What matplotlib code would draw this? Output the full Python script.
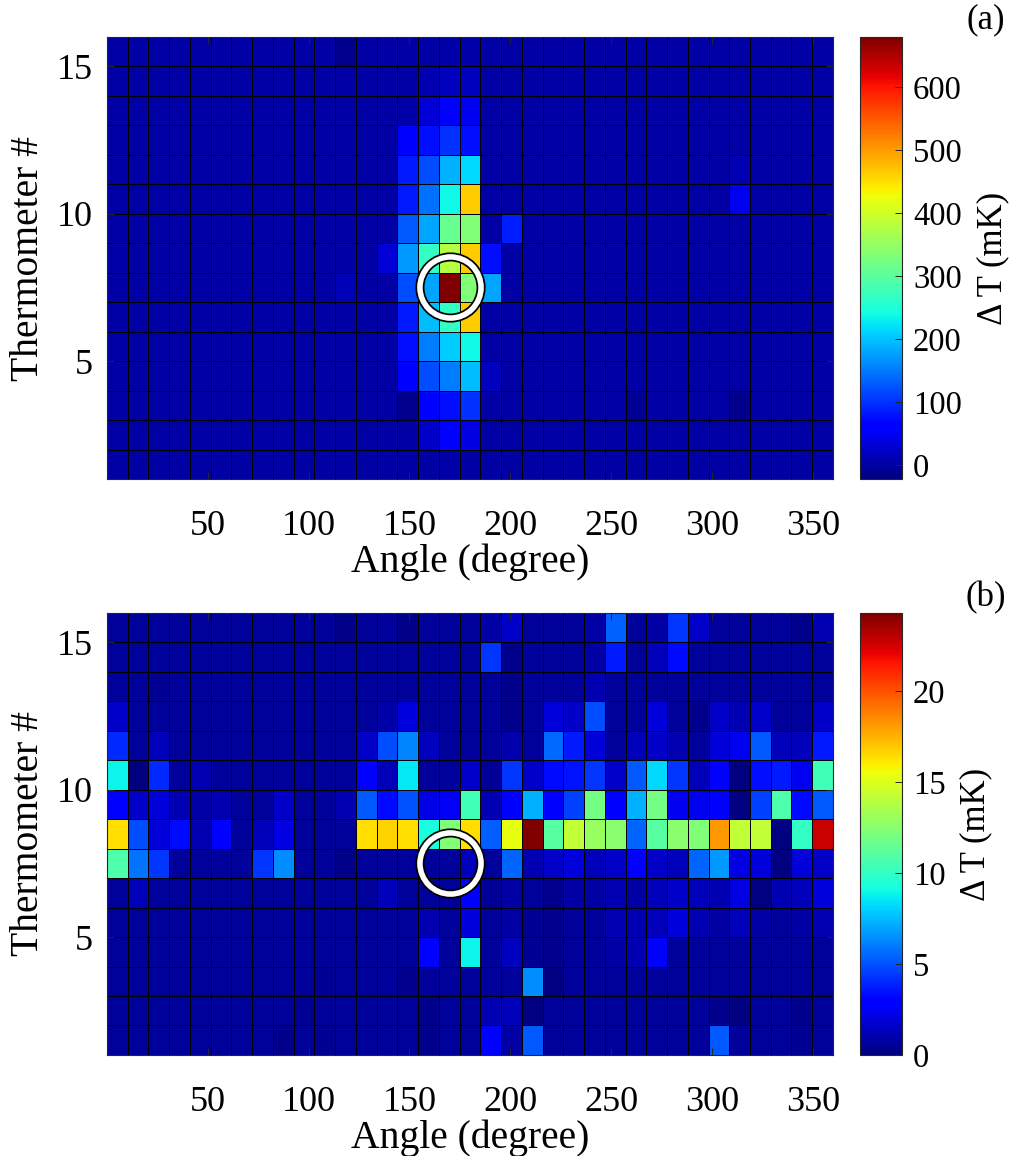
import matplotlib
matplotlib.use("Agg")
import matplotlib.pyplot as plt
import numpy as np

plt.rcParams["font.family"] = ["Liberation Serif", "DejaVu Serif"]
plt.rcParams["font.size"] = 26

# Grid: 35 angular sectors, thermometers 1..16 (15 bands)
angle_edges = np.linspace(0, 360, 36)
thermometer_edges = np.arange(1, 17)

angle_ticks = [50, 100, 150, 200, 250, 300, 350]
thermometer_ticks = [5, 10, 15]

# Heater position marked by the white ring
heater_angle = 170
heater_thermometer = 7.5

# Delta T (mK), rows listed from the top band (thermometer 15) down to 1
dT_a = [
    [0, 0, 0, 0, 0, 0, 0, 0, 0, 0, 0, -12, 0, 0, 0, 0, 3, 3, 0, 0, 0, 0, 0, 0, 0, 0, 0, 0, 0, 0, 0, 0, 0, 0, 0],
    [0, 0, 0, 0, 0, 0, 0, 0, 0, 0, 0, 0, 0, 0, 0, 9, 17, 17, 0, 0, 0, 0, 0, 0, 0, 0, 0, 0, 0, 0, 0, 0, 0, 0, 0],
    [0, 0, 0, 0, 0, 0, 0, 0, 0, 0, 0, 0, 0, 0, 3, 32, 55, 47, 0, 0, 0, 0, 0, 0, 0, 0, 0, 0, 0, 0, 0, 0, 0, 0, 0],
    [0, 0, 0, 0, 0, 0, 0, 0, 0, 0, 0, 0, 0, 0, 55, 75, 101, 75, 0, 0, 0, 0, 0, 0, 0, 0, 0, 0, 0, 0, 0, 0, 0, 0, 0],
    [0, 0, 0, 0, 0, 0, 0, 0, 0, 0, 0, 0, 0, 0, 83, 118, 189, 215, 0, 0, 0, 0, 0, 0, 0, 0, 0, 0, 0, 0, 9, 0, 0, 0, 0],
    [0, 0, 0, 0, 0, 0, 0, 0, 0, 0, 0, 0, 0, 0, 83, 145, 238, 465, 0, 0, 0, 0, 0, 0, 0, 0, 0, 0, 0, 0, 47, 0, 0, 0, 0],
    [0, 0, 0, 0, 0, 0, 0, 0, 0, 0, 0, 0, 0, 0, 127, 180, 311, 333, 0, 85, 0, 0, 0, 0, 0, 0, 0, 0, 0, 0, 0, 0, 0, 0, 0],
    [5, 0, 0, 0, 0, 0, 0, 0, 0, 0, 0, 0, 0, 32, 171, 267, 376, 465, 75, 0, 0, 0, 0, 0, 0, 0, 0, 0, 0, 0, 0, 0, 0, 0, 0],
    [0, 0, 0, 0, 0, 0, 0, 0, 0, 0, 0, 12, 0, 0, 118, 180, 680, 333, 180, 0, 0, 0, 0, 0, 0, 0, 0, 0, 0, 0, 0, 0, 0, 0, 0],
    [0, 0, 0, 0, 0, 0, 0, 0, 0, 0, 0, 0, 0, 0, 83, 197, 267, 465, 0, 0, 0, 0, 0, 0, 0, 0, 0, 0, 0, 0, 0, 0, 0, 0, 0],
    [0, 0, 0, 0, 0, 0, 0, 0, 0, 0, 0, 0, 0, 0, 75, 153, 206, 238, 0, 0, 0, 0, 0, 0, 0, 0, 0, 0, 0, 0, 0, 0, 0, 0, 0],
    [0, 0, 0, 0, 0, 0, 0, 0, 0, 0, 0, 0, 0, 0, 55, 118, 153, 197, 17, 0, 0, 0, 0, 0, 0, 0, 0, 0, 0, 0, 0, 0, 0, 0, 0],
    [0, 0, 0, 0, 0, 0, 0, 0, 0, 0, 0, 0, 0, 0, -12, 55, 75, 101, 0, 0, 0, 0, 0, 0, 0, -10, 0, 0, 0, 0, -12, 0, 0, 0, 0],
    [0, 0, 0, 0, 0, 0, 0, 0, 0, 0, 0, 0, 0, 0, 0, 24, 55, 40, 0, 0, 0, 0, 0, 0, 0, 0, 0, 0, 0, 0, 0, 0, 0, 0, 0],
    [0, 0, 0, 0, 0, 0, 0, 0, 0, 0, 0, 0, 0, 0, 0, 0, 3, 0, 0, 0, 0, 0, 0, 0, 0, 0, 0, 0, 0, 0, 0, 0, 0, 0, 0],
]

dT_b = [
    [.6, .6, .6, .6, .6, .6, .6, .6, .6, .6, .6, .2, .6, .6, .2, .6, .6, .6, .8, 1.6, .6, .6, .6, .8, 5.4, .6, .8, 4.3, 1.6, .6, .6, .6, .6, .3, 1.1],
    [.6, .6, .6, .6, .6, .6, .6, .6, .6, .6, .6, .6, .6, .6, .6, .6, .6, .6, 4.3, .3, .6, .6, .6, .8, 3.7, .6, 1.3, 3.3, .6, .6, .6, .6, .6, .6, .6],
    [.6, .6, .4, .6, .6, .6, .6, .6, .6, .6, .6, .6, .6, .6, .6, .6, .6, .6, .6, .3, .6, .6, .6, 1.1, .6, .6, .6, .6, .6, .6, .6, .6, .6, .6, .6],
    [1.6, .6, .6, .6, .6, .6, .6, .6, .6, .6, .6, .6, .6, .9, 2.0, .6, .6, .6, .6, .3, .6, 1.9, 1.6, 4.9, .6, .6, 1.9, .6, .3, 1.6, 1.1, 1.6, .6, .6, 1.6],
    [4.0, .6, 1.3, .6, .6, .6, .6, .6, .6, .6, .6, .6, 1.6, 4.9, 6.2, 1.4, .6, .6, .6, 1.0, .6, 5.6, 3.7, 1.9, .6, 1.3, 1.6, 1.1, .6, 1.9, 2.4, 5.2, 1.3, 1.3, 3.7],
    [8.9, 0.0, 4.0, .6, 1.1, .6, .6, .6, .6, .6, .6, .6, 2.7, 1.2, 8.6, .6, .6, 1.6, .5, 4.3, 1.6, 3.3, 3.5, 4.3, 1.6, 5.2, 8.2, 4.3, 1.3, 2.7, 0.0, 3.4, 3.7, 2.4, 10.4],
    [2.7, 1.6, 1.9, 1.1, .8, 1.1, .6, .6, 1.6, .6, .6, 1.1, 5.2, 3.3, 5.0, 2.2, 2.5, 10.4, 1.1, 2.7, 7.3, 2.7, 4.6, 11.9, 2.7, 7.3, 11.9, 2.4, 2.4, 2.7, 0.0, 4.6, 10.8, 3.3, 5.2],
    [16.4, 4.9, 1.9, 3.3, 1.1, 2.7, .6, 1.3, 2.1, .6, .6, .6, 16.4, 16.7, 16.4, 9.3, 12.3, 16.4, 5.3, 15.3, 24.3, 11.1, 14.2, 13.0, 12.6, 5.5, 11.1, 12.6, 12.3, 18.2, 14.2, 14.2, 0.0, 10.0, 22.7],
    [10.8, 5.8, 4.3, .6, .6, .6, .6, 4.3, 6.4, .6, .6, .2, .6, .6, .6, .6, .6, 1.3, .6, 5.5, 1.1, 1.6, 1.9, 1.3, 1.6, 2.7, 1.6, 1.3, 5.5, 6.7, 2.1, 1.9, 0.0, 1.9, 1.6],
    [.6, 1.3, .6, .6, .6, .6, .6, .6, .6, .6, .6, .6, .6, 1.3, .6, .6, .6, 2.7, .5, .8, .6, .3, .8, .8, 1.1, .8, 1.3, 1.6, 1.3, 1.1, 2.1, 0.0, 1.1, 1.3, 1.9],
    [.6, .6, .6, .6, .6, .6, .6, .6, .6, .6, .6, .6, .6, .6, .6, 1.1, .6, 1.9, .6, .8, .4, .3, .6, .6, 1.1, 1.1, 1.3, 1.9, 1.1, .8, 1.3, .8, .6, .8, 1.1],
    [.6, .6, .6, .6, .6, .6, .6, .6, .6, .6, .6, .6, .6, .6, .6, 2.7, .6, 8.9, .6, 1.4, .4, .3, .6, .6, .8, 1.1, 2.7, .6, .6, .6, .6, .6, .6, .6, .6],
    [.6, .6, .6, .6, .6, .6, .6, .6, .6, .6, .4, .6, .6, .6, .3, .6, .6, .6, .6, .6, 6.4, 0.0, .6, .6, .6, .6, .6, .6, .6, .6, .6, .6, .6, .6, .6],
    [.6, .6, .6, .6, .6, .6, .6, .6, .6, .4, .6, .6, .6, .6, .6, .3, .6, .6, 1.1, 1.3, 0.0, .6, .6, .6, .6, .6, .6, .6, .6, .3, 0.0, .6, .6, .3, .6],
    [.6, .6, .6, .6, .6, .6, .6, .6, .3, .6, .4, .6, .6, .6, .6, .3, .6, .6, 2.7, .8, 5.2, .6, .6, .6, .6, .6, .6, .6, .6, 5.2, .6, .6, .6, .4, .6],
]

clim_a = (-22, 680)
clim_b = (0, 24.3)
cbar_ticks_a = [0, 100, 200, 300, 400, 500, 600]
cbar_ticks_b = [0, 5, 10, 15, 20]

fig = plt.figure(figsize=(10.12, 11.56), dpi=100)

panels = [
    (dT_a, clim_a, cbar_ticks_a, "(a)", 0.5856, 20),
    (dT_b, clim_b, cbar_ticks_b, "(b)", 0.0874, 598),
]

for data, clim, cticks, tag, bottom, tag_y in panels:
    ax = fig.add_axes([0.1057, bottom, 0.7174, 0.3824])
    cax = fig.add_axes([0.8498, bottom, 0.0415, 0.3824])

    values = np.array(data, dtype=float)[::-1]
    mesh = ax.pcolormesh(
        angle_edges, thermometer_edges, values,
        cmap="jet", vmin=clim[0], vmax=clim[1],
        edgecolors="k", linewidth=0.7,
    )

    # white ring with thin black outline
    ax.plot(heater_angle, heater_thermometer, "o", ms=44, mfc="none",
            mec="k", mew=6.5, zorder=5)
    ax.plot(heater_angle, heater_thermometer, "o", ms=44, mfc="none",
            mec="white", mew=4, zorder=6)

    ax.set_xlim(0, 360)
    ax.set_ylim(1, 16)
    ax.set_xticks(angle_ticks)
    ax.set_yticks(thermometer_ticks)
    ax.tick_params(direction="in", length=5, top=True, right=True,
                   color="0.15", width=0.7, labelsize=26)
    ax.tick_params(axis="x", pad=22)
    ax.tick_params(axis="y", pad=10)
    for spine in ax.spines.values():
        spine.set_color("0.15")
        spine.set_linewidth(0.8)
    ax.set_xlabel("Angle (degree)", fontsize=28.5, labelpad=1)
    ax.set_ylabel("Thermometer #", fontsize=28.5, labelpad=7)

    cb = fig.colorbar(mesh, cax=cax, ticks=cticks)
    cb.ax.tick_params(direction="in", length=5, pad=8, color="0.15",
                      width=0.7, labelsize=23.5)
    cb.outline.set_edgecolor("0.15")
    cb.outline.set_linewidth(0.8)
    cb.set_label("Δ T (mK)", fontsize=25, labelpad=10)

    fig.text(986 / 1012, 1 - tag_y / 1156, tag, fontsize=25,
             ha="center", va="center")

fig.savefig("out.png", dpi=100)
